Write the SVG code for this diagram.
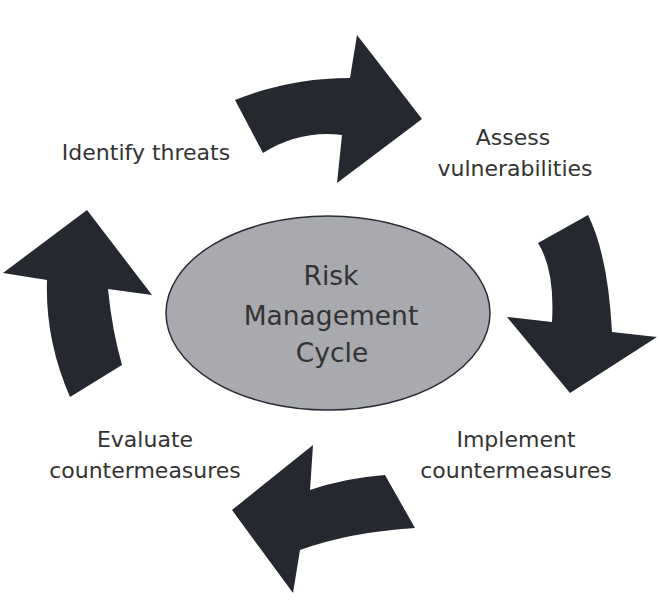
<svg xmlns="http://www.w3.org/2000/svg" width="660" height="605" viewBox="0 0 660 605">
<style>
.arrow{fill:#262830;stroke:none}
.lbl{font-family:"DejaVu Sans","Liberation Sans",sans-serif;font-size:22px;fill:#333;text-anchor:middle}
.ctr{font-family:"DejaVu Sans","Liberation Sans",sans-serif;font-size:26.5px;fill:#333;text-anchor:middle}
</style>
<rect width="660" height="605" fill="#ffffff"/>
<g id="connectors">
<path class="arrow" d="M235,100 Q290,78 350,78 L357,35 L422,119 L337,183 L342,135 Q300,130 263,153 Z"/>
<path class="arrow" d="M538,243 L588,215 Q608,255 612,332 L657,337 L570,393 L507,317 L552,322 Q555,270 538,243 Z"/>
<path class="arrow" d="M232,510 L313,445 L310,490 Q345,478 385,475 L415,528 Q350,532 300,550 L293,593 Z"/>
<path class="arrow" d="M87,210 L152,295 L108,289 Q112,330 122,365 L70,397 Q45,340 47,280 L3,273 Z"/>
</g>
<g id="center">
<ellipse cx="328" cy="313" rx="162" ry="97" fill="#a8aaaf" stroke="#2a2c33" stroke-width="1.5"/>
<text class="ctr" x="331" y="285">Risk</text>
<text class="ctr" x="331" y="325">Management</text>
<text class="ctr" x="332" y="362">Cycle</text>
</g>
<g id="identify">
<text class="lbl" x="146" y="160">Identify threats</text>
</g>
<g id="assess">
<text class="lbl" x="513" y="145">Assess</text>
<text class="lbl" x="515" y="176">vulnerabilities</text>
</g>
<g id="implement">
<text class="lbl" x="516" y="447">Implement</text>
<text class="lbl" x="516" y="478">countermeasures</text>
</g>
<g id="evaluate">
<text class="lbl" x="145" y="447">Evaluate</text>
<text class="lbl" x="145" y="478">countermeasures</text>
</g>
</svg>
